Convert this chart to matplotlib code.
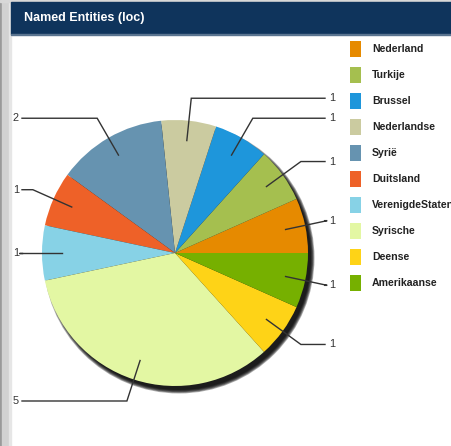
import numpy as np
import matplotlib
matplotlib.use("Agg")
import matplotlib.pyplot as plt
from matplotlib.patches import Rectangle, Circle

plt.rcParams["font.family"] = ["Liberation Sans", "DejaVu Sans"]

# Data
title = "Named Entities (loc)"
labels = ["Nederland", "Turkije", "Brussel", "Nederlandse", "Syrië",
          "Duitsland", "VerenigdeStaten", "Syrische", "Deense", "Amerikaanse"]
counts = [1, 1, 1, 1, 2, 1, 1, 5, 1, 1]
colors = ["#E68A00", "#A5BF4F", "#1E96DB", "#CBCBA0", "#6693B0",
          "#EE6128", "#87D2E6", "#E3F7A3", "#FED317", "#76B000"]

W, H = 452, 446
fig = plt.figure(figsize=(W / 100, H / 100), dpi=100)
ax = fig.add_axes([0, 0, 1, 1])

def py(y):
    # pixel row (from top) -> data y
    return H - y

# frame: left border strips, top strip and header bar
ax.add_patch(Rectangle((0, 0), W, H, color="white", zorder=0))
ax.add_patch(Rectangle((0, 0), 2, H, color="#9a9a9a", zorder=1))
ax.add_patch(Rectangle((2, 0), 7, H, color="#d2d2d2", zorder=1))
ax.add_patch(Rectangle((9, 0), 2, H, color="#e6e6e6", zorder=1))
ax.add_patch(Rectangle((0, py(2)), W, 2, color="#d8d8d8", zorder=1))
ax.add_patch(Rectangle((11, py(34)), W - 11, 32, color="#0F345C", zorder=2))
ax.add_patch(Rectangle((11, py(35)), W - 11, 1, color="#5a7490", zorder=2))
ax.text(24, py(18), title, color="white", fontsize=9, fontweight="bold",
        va="center", ha="left", zorder=3)

# pie
cx, cy, r = 175, py(253), 133

# soft shadow to the lower right
for i in range(6):
    ax.add_patch(Circle((cx + 4, cy - 5), r + 2.5 - i * 0.7,
                        color="black", alpha=0.3, lw=0, zorder=3))

wedges, _ = ax.pie(counts, colors=colors, startangle=0, counterclock=True,
                   center=(cx, cy), radius=r, frame=True,
                   wedgeprops=dict(linewidth=0))
for w in wedges:
    w.set_zorder(4)
ax.set_xlim(0, W)
ax.set_ylim(0, H)
ax.axis("off")

# leader lines and values
for w, n in zip(wedges, counts):
    a = np.deg2rad((w.theta1 + w.theta2) / 2)
    x0, y0 = cx + 0.85 * r * np.cos(a), cy + 0.85 * r * np.sin(a)
    x1, y1 = cx + 1.17 * r * np.cos(a), cy + 1.17 * r * np.sin(a)
    if np.cos(a) >= 0:
        x2, tx, ha = 325, 329, "left"
    else:
        x2, tx, ha = 22, 19, "right"
    ax.plot([x0, x1, x2], [y0, y1, y1], color="#333333", lw=1,
            solid_joinstyle="miter", zorder=5)
    ax.text(tx, y1, str(n), fontsize=7.8, color="#333333",
            va="center", ha=ha, zorder=5)

# legend
for i, (lab, c) in enumerate(zip(labels, colors)):
    yc = py(49 + 26 * i)
    ax.add_patch(Rectangle((350, yc - 8), 11, 16, color=c, lw=0, zorder=5))
    ax.text(372, yc, lab, fontsize=7.6, fontweight="bold", color="#222222",
            va="center", ha="left", zorder=5)

fig.savefig("out.png", dpi=100)
